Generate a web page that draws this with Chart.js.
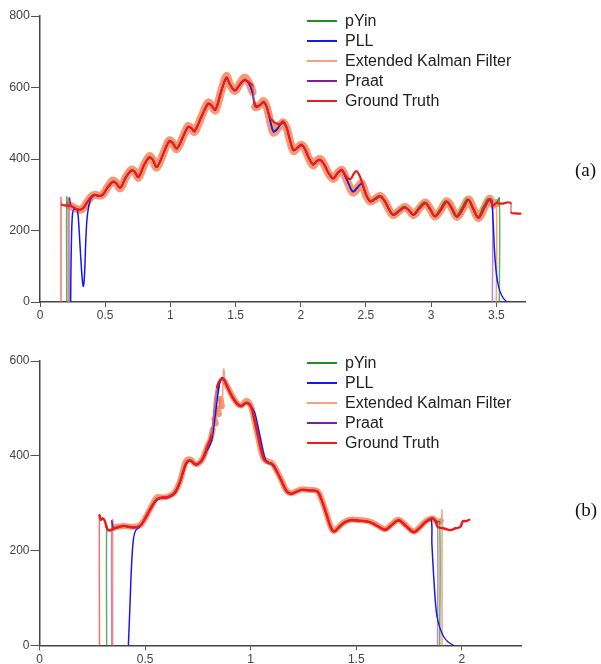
<!DOCTYPE html>
<html>
<head>
<meta charset="utf-8">
<script src="https://cdn.jsdelivr.net/npm/chart.js@4.4.1/dist/chart.umd.min.js"></script>
<style>
  body { margin: 0; background: #fff; width: 601px; height: 664px; position: relative; overflow: hidden;
         font-family: "Liberation Sans", Arial, sans-serif; }
  .panel { position: absolute; left: 0; width: 601px; }
  #wrapA { top: 0; height: 330px; }
  #wrapB { top: 340px; height: 324px; }
  .legend { position: absolute; left: 307px; font-size: 16px; color: #222; }
  .legend div { height: 20px; line-height: 20px; position: relative; padding-left: 38px; white-space: nowrap; }
  .legend .sw { position: absolute; left: 0; top: 9px; width: 30px; height: 2px; }
  .tag { position: absolute; left: 575px; font-family: "Liberation Serif", "Times New Roman", serif;
         font-size: 19px; color: #111; line-height: 20px; }
</style>
</head>
<body>
<div class="panel" id="wrapA"><canvas id="chartA" width="601" height="330"></canvas></div>
<div class="panel" id="wrapB"><canvas id="chartB" width="601" height="324"></canvas></div>
<div class="legend" id="legendA" style="top:11px"></div>
<div class="legend" id="legendB" style="top:353px"></div>
<div class="tag" style="top:160px">(a)</div>
<div class="tag" style="top:500px">(b)</div>

<script>
// Pitch tracks (Hz) over time (s).
// Unvoiced frames are 0, which gives the vertical lines at onset/offset.

const seriesNames = ['pYin', 'PLL', 'Extended Kalman Filter', 'Praat', 'Ground Truth'];

// ---- panel (a) ----
const xTicksA = [0, 0.5, 1, 1.5, 2, 2.5, 3, 3.5];
const yTicksA = [0, 200, 400, 600, 800];

const gtTimeA = [0.161,0.161,0.168,0.20,0.24,0.27,0.305,0.33,0.36,0.395,0.42,0.455,0.48,0.52,0.56,0.585,0.615,0.66,0.70,0.725,0.755,0.80,0.84,0.865,0.895,0.94,0.99,1.015,1.05,1.10,1.135,1.16,1.185,1.24,1.29,1.315,1.345,1.39,1.43,1.455,1.495,1.535,1.57,1.61,1.63,1.645,1.66,1.69,1.715,1.74,1.765,1.79,1.81,1.84,1.865,1.89,1.92,1.945,1.975,2.005,2.03,2.06,2.095,2.125,2.15,2.18,2.215,2.25,2.285,2.315,2.34,2.365,2.385,2.405,2.425,2.445,2.47,2.50,2.533,2.57,2.61,2.645,2.68,2.71,2.755,2.80,2.835,2.865,2.91,2.955,2.99,3.03,3.075,3.12,3.16,3.198,3.245,3.287,3.325,3.364,3.41,3.449,3.475,3.50,3.53,3.56,3.59,3.612,3.615,3.65,3.685];
const gtHzA = [0,292,272,270,268,262,258,262,278,295,300,297,300,322,337,332,320,350,368,365,350,385,405,398,378,410,450,446,430,465,490,487,478,520,555,550,538,590,628,610,592,610,622,612,605,560,545,552,560,545,515,505,500,498,505,490,450,425,432,440,430,405,385,395,398,385,360,346,362,370,356,345,345,358,366,358,335,302,282,288,296,282,258,244,255,265,255,244,262,277,262,240,258,281,262,239,262,286,260,236,265,288,270,277,275,276,279,276,250,248,247];

const praatTimeA = [0.225,0.225,0.24,0.27,0.305,0.33,0.36,0.395,0.42,0.455,0.48,0.52,0.56,0.585,0.615,0.66,0.70,0.725,0.755,0.80,0.84,0.865,0.895,0.94,0.99,1.015,1.05,1.10,1.135,1.16,1.185,1.24,1.29,1.315,1.345,1.39,1.43,1.455,1.495,1.535,1.57,1.60,1.63,1.65,1.69,1.715,1.74,1.77,1.79,1.815,1.84,1.865,1.89,1.92,1.945,1.975,2.005,2.03,2.06,2.095,2.125,2.15,2.18,2.215,2.25,2.285,2.315,2.34,2.37,2.39,2.405,2.43,2.455,2.47,2.50,2.533,2.57,2.61,2.645,2.68,2.71,2.755,2.80,2.835,2.865,2.91,2.955,2.99,3.03,3.075,3.12,3.16,3.198,3.245,3.287,3.325,3.364,3.41,3.449,3.47,3.47];
const praatHzA = [0,290,268,262,258,262,278,294,299,296,299,320,336,331,319,349,367,364,349,384,404,397,377,409,449,445,429,464,489,486,477,519,554,549,537,589,626,609,591,609,620,612,585,548,551,558,543,500,477,482,495,502,488,449,424,431,438,429,404,384,394,397,384,359,345,361,368,352,328,312,309,318,328,330,300,281,287,295,281,257,243,254,264,254,243,261,276,261,239,257,280,261,238,261,285,259,235,264,287,282,0];

const pyinTimeA = [0.205,0.205,0.215,0.24,0.27,0.305,0.33,0.36,0.395,0.42,0.455,0.48,0.52,0.56,0.585,0.615,0.66,0.70,0.725,0.755,0.80,0.84,0.865,0.895,0.94,0.99,1.015,1.05,1.10,1.135,1.16,1.185,1.24,1.29,1.315,1.345,1.39,1.43,1.455,1.495,1.535,1.57,1.60,1.63,1.65,1.69,1.715,1.74,1.77,1.79,1.815,1.84,1.865,1.89,1.92,1.945,1.975,2.005,2.03,2.06,2.095,2.125,2.15,2.18,2.215,2.25,2.285,2.315,2.34,2.37,2.39,2.405,2.43,2.455,2.47,2.50,2.528,2.565,2.60,2.64,2.675,2.705,2.75,2.795,2.83,2.86,2.905,2.948,2.985,3.025,3.068,3.112,3.152,3.19,3.236,3.278,3.318,3.357,3.40,3.44,3.47,3.50,3.523,3.523];
const pyinHzA = [0,293,270,268,262,258,262,278,295,299,297,300,321,337,332,320,350,368,365,350,385,405,398,378,410,450,446,430,465,490,487,478,520,555,550,538,590,627,610,592,610,621,613,588,548,552,559,544,502,480,484,496,503,489,450,425,432,439,430,405,385,395,398,385,360,346,362,369,353,330,314,311,320,330,331,301,282,289,297,283,259,245,256,267,256,245,264,279,263,241,259,283,263,240,263,288,261,237,266,289,272,276,290,0];

const pllTimeA = [0.235,0.24,0.25,0.265,0.285,0.295,0.31,0.325,0.333,0.342,0.35,0.36,0.375,0.39,0.41,0.43,0.455,0.48,0.52,0.56,0.585,0.615,0.66,0.70,0.725,0.755,0.80,0.84,0.865,0.895,0.94,0.99,1.015,1.05,1.10,1.135,1.16,1.185,1.24,1.29,1.315,1.345,1.39,1.43,1.455,1.495,1.535,1.57,1.60,1.63,1.65,1.69,1.715,1.74,1.77,1.79,1.815,1.84,1.865,1.89,1.92,1.945,1.975,2.005,2.03,2.06,2.095,2.125,2.15,2.18,2.215,2.25,2.285,2.315,2.34,2.37,2.39,2.405,2.43,2.455,2.47,2.50,2.533,2.57,2.61,2.645,2.68,2.71,2.755,2.80,2.835,2.865,2.91,2.955,2.99,3.03,3.075,3.12,3.16,3.198,3.245,3.287,3.325,3.364,3.41,3.449,3.465,3.475,3.485,3.495,3.51,3.53,3.555,3.58];
const pllHzA = [0,150,250,260,258,230,140,60,44,80,160,230,270,288,297,298,296,299,320,335,331,319,349,367,364,349,384,404,397,377,409,449,445,429,464,489,486,477,519,554,549,537,588,625,609,591,608,620,612,586,549,551,558,543,500,476,481,494,502,488,449,424,431,438,429,404,384,394,397,384,359,345,361,368,352,328,312,308,317,329,330,300,281,287,295,281,257,243,254,264,254,243,261,276,261,239,257,280,261,238,261,285,259,235,264,287,280,230,150,100,55,28,10,0];

const ekfTimeA = [0.217,0.217,0.225,0.24,0.27,0.305,0.33,0.36,0.395,0.42,0.455,0.48,0.52,0.56,0.585,0.615,0.66,0.70,0.725,0.755,0.80,0.84,0.865,0.895,0.94,0.99,1.015,1.05,1.10,1.135,1.16,1.185,1.24,1.29,1.315,1.345,1.39,1.43,1.455,1.495,1.535,1.57,1.60,1.63,1.65,1.69,1.715,1.74,1.77,1.79,1.815,1.84,1.865,1.89,1.92,1.945,1.975,2.005,2.03,2.06,2.095,2.125,2.15,2.18,2.215,2.25,2.285,2.315,2.34,2.37,2.39,2.405,2.43,2.455,2.47,2.50,2.533,2.57,2.61,2.645,2.68,2.71,2.755,2.80,2.835,2.865,2.91,2.955,2.99,3.03,3.075,3.12,3.16,3.198,3.245,3.287,3.325,3.364,3.41,3.449,3.475,3.50,3.50];
const ekfHzA = [0,290,270,268,262,258,262,278,295,300,297,300,322,340,333,318,350,370,366,348,385,408,398,376,410,452,446,428,465,492,487,476,520,558,550,536,590,632,610,590,612,628,615,588,546,552,562,544,498,474,481,494,503,488,448,422,432,440,430,404,382,396,400,384,358,344,362,370,352,326,310,306,316,330,331,300,281,288,297,281,257,243,255,266,255,243,262,278,262,239,258,282,262,238,262,287,260,235,265,289,272,276,0];

// ---- panel (b) ----
const xTicksB = [0, 0.5, 1, 1.5, 2];
const yTicksB = [0, 200, 400, 600];

const gtTimeB = [0.284,0.284,0.29,0.30,0.31,0.318,0.33,0.36,0.40,0.44,0.475,0.50,0.53,0.555,0.58,0.61,0.64,0.665,0.695,0.715,0.74,0.77,0.795,0.815,0.83,0.84,0.855,0.87,0.89,0.91,0.935,0.955,0.98,1.0,1.015,1.035,1.06,1.08,1.10,1.12,1.145,1.17,1.19,1.215,1.24,1.28,1.315,1.335,1.36,1.38,1.395,1.415,1.44,1.47,1.52,1.565,1.60,1.637,1.67,1.70,1.735,1.772,1.80,1.827,1.86,1.875,1.885,1.90,1.92,1.945,1.97,1.993,2.005,2.02,2.035];
const gtHzB = [0,274,265,268,262,248,242,248,252,249,252,268,292,308,312,313,322,345,385,390,382,392,420,445,520,545,560,562,545,527,510,505,512,505,480,440,395,385,383,370,348,325,320,324,328,327,325,308,275,248,240,248,258,264,263,260,252,244,255,264,252,239,248,260,268,262,250,248,246,243,247,250,262,262,265];

const praatTimeB = [0.342,0.342,0.35,0.36,0.40,0.44,0.475,0.50,0.53,0.555,0.58,0.61,0.64,0.665,0.695,0.715,0.74,0.77,0.795,0.815,0.83,0.845,0.86,0.875,0.89,0.91,0.935,0.955,0.98,1.0,1.02,1.04,1.06,1.08,1.10,1.12,1.145,1.17,1.19,1.215,1.24,1.28,1.315,1.335,1.36,1.38,1.395,1.415,1.44,1.47,1.52,1.565,1.60,1.637,1.67,1.70,1.735,1.772,1.80,1.827,1.86,1.875,1.885,1.885];
const praatHzB = [0,262,246,247,251,248,251,267,291,307,311,312,321,344,384,389,381,391,418,442,500,540,560,560,544,526,509,504,511,504,475,435,396,385,382,369,347,325,320,323,327,326,324,307,274,248,240,248,257,263,262,259,251,243,254,263,251,238,247,259,267,262,258,0];

const pyinTimeB = [0.318,0.318,0.325,0.36,0.40,0.44,0.475,0.50,0.53,0.555,0.58,0.61,0.64,0.665,0.695,0.715,0.74,0.77,0.795,0.81,0.825,0.84,0.855,0.87,0.89,0.91,0.935,0.955,0.98,1.0,1.02,1.04,1.06,1.08,1.10,1.12,1.145,1.17,1.19,1.215,1.24,1.28,1.315,1.335,1.36,1.38,1.395,1.415,1.44,1.47,1.52,1.565,1.60,1.637,1.67,1.70,1.735,1.772,1.80,1.827,1.86,1.88,1.895,1.895];
const pyinHzB = [0,252,244,248,252,249,252,268,292,308,312,313,322,345,385,390,382,392,420,438,480,535,558,562,545,527,510,505,512,505,478,437,397,386,383,370,348,325,320,324,328,327,325,308,275,248,240,248,258,264,263,260,252,244,255,264,252,239,248,260,268,262,260,0];

const pllTimeB = [0.421,0.428,0.436,0.445,0.455,0.475,0.50,0.53,0.555,0.58,0.61,0.64,0.665,0.695,0.715,0.74,0.77,0.795,0.815,0.835,0.85,0.862,0.875,0.89,0.91,0.935,0.955,0.98,1.0,1.02,1.045,1.07,1.09,1.11,1.13,1.15,1.175,1.195,1.215,1.24,1.28,1.315,1.34,1.365,1.385,1.40,1.415,1.44,1.47,1.52,1.565,1.60,1.637,1.67,1.70,1.735,1.772,1.80,1.827,1.854,1.858,1.866,1.874,1.882,1.895,1.914,1.935,1.96];
const pllHzB = [0,80,170,225,242,250,266,290,306,311,312,320,343,382,389,381,390,412,432,495,545,565,562,546,528,511,506,512,506,490,440,392,385,380,362,342,322,320,324,328,327,325,302,268,245,241,248,258,264,263,260,252,244,255,264,252,239,248,260,266,215,150,95,62,38,18,7,0];

const ekfTimeB = [0.347,0.347,0.352,0.36,0.40,0.44,0.475,0.50,0.53,0.555,0.58,0.61,0.64,0.665,0.695,0.715,0.74,0.77,0.795,0.81,0.82,0.828,0.835,0.842,0.85,0.857,0.864,0.872,0.88,0.89,0.91,0.935,0.955,0.98,1.0,1.015,1.035,1.06,1.08,1.10,1.12,1.145,1.17,1.19,1.215,1.24,1.28,1.315,1.335,1.36,1.38,1.395,1.415,1.44,1.47,1.52,1.565,1.60,1.637,1.67,1.70,1.735,1.772,1.80,1.827,1.86,1.88,1.90,1.906,1.906];
const ekfHzB = [0,265,248,249,252,250,253,268,293,312,312,314,323,346,390,392,382,392,420,435,455,478,468,500,488,520,505,583,555,546,528,511,506,516,506,480,440,395,388,385,371,349,326,321,325,329,328,326,309,276,249,241,249,259,265,264,261,253,245,256,265,253,240,249,261,268,262,262,285,0];

// ---- styles ----
const colors = {
  pyin:  '#1f8f1f',
  pll:   '#1818ee',
  ekf:   'rgba(244,112,62,0.72)',
  praat: '#7d1fa0',
  gt:    '#ee1a1a',
};
const legendColors = ['#1f8f1f', '#1818ee', '#f7a27c', '#7d1fa0', '#ee1a1a'];
// colour for the thin onset/offset verticals and noisy jumps
const edgeColors = {
  pyin:  'rgba(40,150,40,0.75)',
  pll:   '#1818ee',
  ekf:   'rgba(246,150,110,0.9)',
  praat: 'rgba(175,110,205,0.85)',
  gt:    'rgba(240,80,80,0.8)',
};

Chart.defaults.font.family = '"Liberation Sans", Arial, sans-serif';

function pts(times, hz) {
  return times.map((t, i) => ({ x: t, y: hz[i] }));
}

function line(key, times, hz, width) {
  // very steep segments (onsets, offsets, jitter) are drawn thin
  const isSteep = (ctx) => {
    const dx = Math.abs(ctx.p1.x - ctx.p0.x);
    const dy = Math.abs(ctx.p1.y - ctx.p0.y);
    return dx < 0.5 || dy / dx > 5;
  };
  return {
    data: pts(times, hz),
    borderColor: colors[key],
    borderWidth: width,
    pointRadius: 0,
    tension: 0.35,
    fill: false,
    borderJoinStyle: 'round',
    borderCapStyle: 'round',
    segment: {
      borderWidth: (ctx) => isSteep(ctx) ? 1.5 : undefined,
      borderColor: (ctx) => isSteep(ctx) ? edgeColors[key] : undefined,
    },
  };
}

function makeChart(id, p) {
  return new Chart(document.getElementById(id), {
    type: 'line',
    data: { datasets: p.datasets },   // index 0 is drawn on top
    options: {
      responsive: false,
      animation: false,
      events: [],
      layout: { padding: p.padding },
      plugins: { legend: { display: false }, tooltip: { enabled: false } },
      scales: {
        x: {
          type: 'linear', min: 0, max: p.xMax,
          afterBuildTicks: (s) => { s.ticks = p.xTicks.map(v => ({ value: v })); },
          afterFit: (s) => { s.height = p.xAxisH; },
          ticks: { color: '#444', font: { size: 12 }, padding: p.xPad, maxRotation: 0,
                   callback: (v) => String(+v.toFixed(2)) },
          grid: { drawOnChartArea: false, drawTicks: true, tickLength: 5, color: '#555' },
          border: { color: '#444', width: 1.5 },
        },
        y: {
          min: 0, max: p.yMax,
          afterBuildTicks: (s) => { s.ticks = p.yTicks.map(v => ({ value: v })); },
          afterFit: (s) => { s.width = p.yAxisW; },
          ticks: { color: '#444', font: { size: p.yFont }, padding: 1 },
          grid: { drawOnChartArea: false, drawTicks: true, tickLength: 9, color: '#555' },
          border: { color: '#444', width: 1.5 },
        },
      },
    },
  });
}

makeChart('chartA', {
  xMax: 3.72, yMax: 800, xTicks: xTicksA, yTicks: yTicksA,
  padding: { top: 16, right: 76, left: 0, bottom: 0 },
  xAxisH: 28, yAxisW: 40, xPad: 1, yFont: 12.5,
  datasets: [
    line('gt', gtTimeA, gtHzA, 2.2),
    line('pll', pllTimeA, pllHzA, 1.3),
    line('praat', praatTimeA, praatHzA, 1.5),
    line('pyin', pyinTimeA, pyinHzA, 1.4),
    line('ekf', ekfTimeA, ekfHzA, 8),
  ],
});

makeChart('chartB', {
  xMax: 2.28, yMax: 600, xTicks: xTicksB, yTicks: yTicksB,
  padding: { top: 21, right: 80, left: 0, bottom: 0 },
  xAxisH: 18.7, yAxisW: 39.5, xPad: 2, yFont: 12,
  datasets: [
    line('gt', gtTimeB, gtHzB, 2.4),
    line('pll', pllTimeB, pllHzB, 1.3),
    line('praat', praatTimeB, praatHzB, 1.5),
    line('pyin', pyinTimeB, pyinHzB, 1.4),
    line('ekf', ekfTimeB, ekfHzB, 6),
  ],
});

// HTML legends (the original puts them inside the plot, top right)
for (const id of ['legendA', 'legendB']) {
  const box = document.getElementById(id);
  seriesNames.forEach((name, i) => {
    const row = document.createElement('div');
    row.innerHTML = '<span class="sw" style="background:' + legendColors[i] + '"></span>' + name;
    box.appendChild(row);
  });
}
</script>
</body>
</html>
